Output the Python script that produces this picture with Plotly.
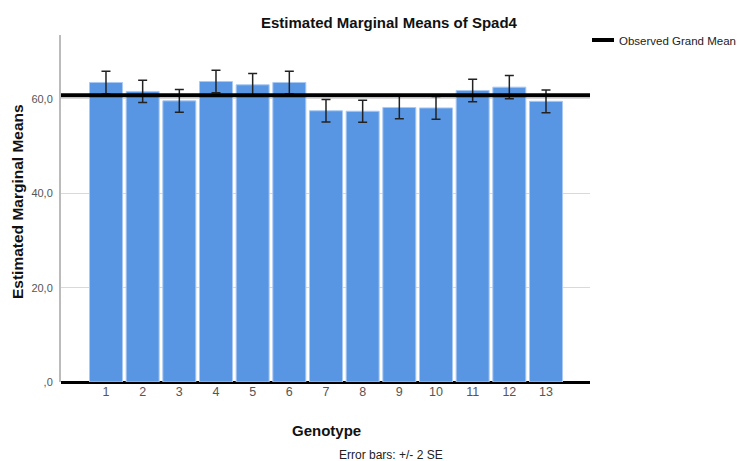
import plotly.graph_objects as go

genotypes = [1, 2, 3, 4, 5, 6, 7, 8, 9, 10, 11, 12, 13]
means = [63.5, 61.6, 59.6, 63.7, 63.0, 63.5, 57.5, 57.4, 58.2, 58.1, 61.8, 62.5, 59.5]
err_2se = [2.4, 2.35, 2.4, 2.4, 2.4, 2.4, 2.4, 2.35, 2.4, 2.4, 2.4, 2.45, 2.4]
grand_mean = 60.8
y_tickvals = [0, 20, 40, 60]
y_ticktext = [",0", "20,0", "40,0", "60,0"]

x_range = [-0.227, 14.2]
y_range = [0, 73.56]

W, H = 739, 461
l, r, t, b = 61, 149, 35, 79
pw, ph = W - l - r, H - t - b


def px(xp):
    return (xp - l) / pw


def py(yp):
    return (H - b - yp) / ph


fig = go.Figure()
fig.add_trace(go.Bar(
    x=genotypes, y=means,
    marker=dict(color="#5896E4", line=dict(color="#A9C9F2", width=1)),
    error_y=dict(type="data", array=err_2se, color="#222222", thickness=1.5, width=4.5),
    showlegend=False,
))
fig.add_trace(go.Scatter(
    x=x_range, y=[grand_mean, grand_mean], mode="lines",
    line=dict(color="black", width=4),
    name="Observed Grand Mean", showlegend=False,
))

fig.update_layout(
    width=W, height=H,
    margin=dict(l=l, r=r, t=t, b=b, autoexpand=False),
    paper_bgcolor="white", plot_bgcolor="white",
    bargap=0.1,
    font=dict(family="Liberation Sans, Arial, sans-serif", color="#222"),
    showlegend=False,
    xaxis=dict(range=x_range, tickvals=genotypes, ticktext=[str(g) for g in genotypes],
               showgrid=False, zeroline=False, showline=False, ticks="",
               tickfont=dict(size=12.5, color="#555"), automargin=False),
    yaxis=dict(range=y_range, tickvals=y_tickvals, ticktext=y_ticktext,
               showgrid=True, gridcolor="#D9D9D9", gridwidth=1,
               zeroline=True, zerolinecolor="black", zerolinewidth=3,
               showline=True, linecolor="#BBBBBB", linewidth=2,
               ticks="", ticklabelstandoff=4,
               tickfont=dict(size=11, color="#555"), automargin=False),
)


def text(s, x, y, size, color="#111", anchor="center", angle=0):
    fig.add_annotation(text=s, x=px(x), y=py(y), xanchor=anchor, yanchor="middle",
                       xref="paper", yref="paper", showarrow=False, textangle=angle,
                       borderpad=0, font=dict(size=size, color=color))


# legend (manual, to match position exactly)
fig.add_shape(type="line", xref="paper", yref="paper",
              x0=px(592), x1=px(614), y0=py(40), y1=py(40),
              line=dict(color="black", width=4))
text("Observed Grand Mean", 618, 41, 11.5, "#222", anchor="left")

text("<b>Estimated Marginal Means of Spad4</b>", 389, 22, 15)
text("<b>Estimated Marginal Means</b>", 17, 202, 15.5, angle=-90)
text("<b>Genotype</b>", 326, 430, 15)
text("Error bars: +/- 2 SE", 391, 455, 12, "#222")

fig.write_html("out.html")
